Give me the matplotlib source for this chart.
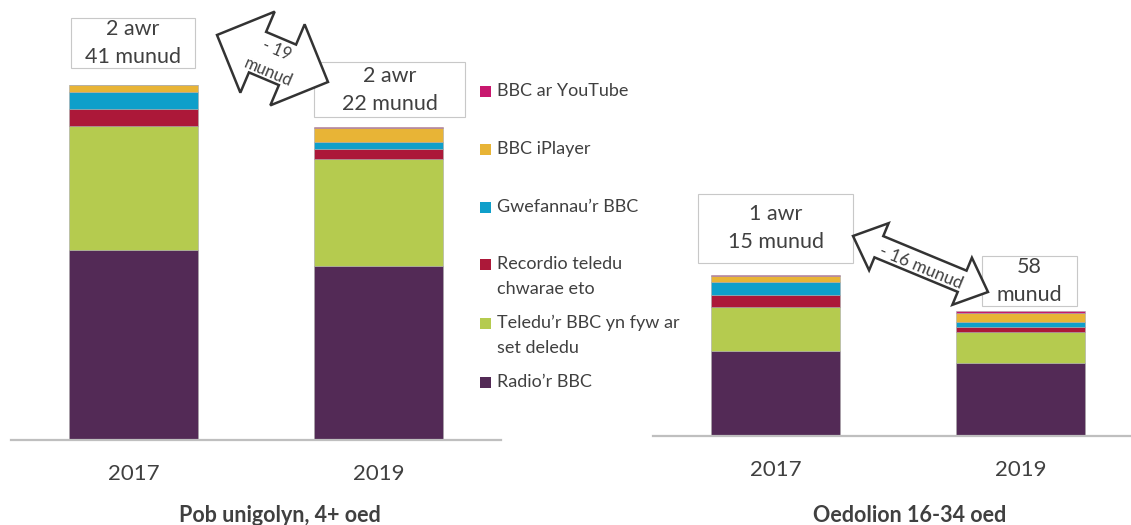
import numpy as np
import matplotlib
matplotlib.use("Agg")
import matplotlib.pyplot as plt
from matplotlib.patches import Polygon, Rectangle

plt.rcParams['font.family'] = ['Lato', 'DejaVu Sans']

# data (minutes per day)
years = ['2017', '2019']
series = ["Radio\u2019r BBC", "Teledu\u2019r BBC yn fyw ar\nset deledu",
          "Recordio teledu\nchwarae eto", "Gwefannau\u2019r BBC",
          "BBC iPlayer", "BBC ar YouTube"]
colors = ['#532A56', '#B5CB4F', '#AC1839', '#0F9FCA', '#E8B436', '#C8186E']

all_radio = [86.2, 79.1]
all_tv = [56.0, 48.3]
all_rec = [7.9, 4.7]
all_web = [7.7, 3.2]
all_iplayer = [3.0, 6.0]
all_youtube = [0.3, 0.5]

young_radio = [39.4, 34.0]
young_tv = [20.8, 14.4]
young_rec = [5.4, 2.2]
young_web = [6.2, 2.2]
young_iplayer = [2.5, 4.6]
young_youtube = [0.65, 0.75]

all_labels = ['2 awr\n41 munud', '2 awr\n22 munud']
young_labels = ['1 awr\n15 munud', '58\nmunud']
all_change = ['- 19', 'munud']
young_change = '- 16 munud'

W, H = 1131, 525
TXT = '#404040'


def fx(x):
    return x / W


def fy(y):
    return 1 - y / H


fig = plt.figure(figsize=(W / 100, H / 100), dpi=100)


def stacked(ax, stack, ymax, title, tx):
    bottom = np.zeros(2)
    xs = np.arange(2)
    for vals, c in zip(stack, colors):
        ax.bar(xs, vals, width=0.53, bottom=bottom, color=c,
               edgecolor='#a8a8a8', linewidth=0.4)
        bottom += np.array(vals)
    ax.set_xlim(-0.5, 1.5)
    ax.set_ylim(0, ymax)
    for s in ['top', 'left', 'right']:
        ax.spines[s].set_visible(False)
    ax.spines['bottom'].set_color('#bfbfbf')
    ax.spines['bottom'].set_linewidth(1.6)
    ax.set_yticks([])
    ax.set_xticks(xs)
    ax.set_xticklabels(years, fontsize=16, color=TXT)
    ax.tick_params(axis='x', length=0, pad=17)
    fig.text(fx(tx), fy(516), title, ha='center', va='center',
             fontsize=15.5, fontweight='bold', color=TXT)
    return bottom


ax1 = fig.add_axes([fx(11), fy(440), 490 / W, 430 / H])
stacked(ax1, [all_radio, all_tv, all_rec, all_web, all_iplayer, all_youtube],
        430 / 2.205, 'Pob unigolyn, 4+ oed', 280)

ax2 = fig.add_axes([fx(653), fy(436), 490 / W, 420 / H])
stacked(ax2, [young_radio, young_tv, young_rec, young_web, young_iplayer, young_youtube],
        420 / 2.15, 'Oedolion 16-34 oed', 910)


def label_box(x0, y0, x1, y1, text):
    fig.patches.append(Rectangle((fx(x0), fy(y1)), (x1 - x0) / W, (y1 - y0) / H,
                                 transform=fig.transFigure, facecolor='white',
                                 edgecolor='#c8c8c8', linewidth=0.8, zorder=3))
    l1, l2 = text.split('\n')
    cx, cy = (x0 + x1) / 2, (y0 + y1) / 2
    fig.text(fx(cx), fy(cy - 14), l1, ha='center', va='center', fontsize=15.5, color=TXT, zorder=4)
    fig.text(fx(cx), fy(cy + 14), l2, ha='center', va='center', fontsize=15.5, color=TXT, zorder=4)


label_box(71, 18, 195, 68, all_labels[0])
label_box(314, 62, 465, 117, all_labels[1])
label_box(698, 194, 853, 263, young_labels[0])
label_box(982, 256, 1077, 306, young_labels[1])


def double_arrow(p0, p1, head_len, head_half, shaft_half):
    p0, p1 = np.array(p0, float), np.array(p1, float)
    u = (p1 - p0) / np.linalg.norm(p1 - p0)
    n = np.array([-u[1], u[0]])
    pts = [p0,
           p0 + u * head_len + n * head_half,
           p0 + u * head_len + n * shaft_half,
           p1 - u * head_len + n * shaft_half,
           p1 - u * head_len + n * head_half,
           p1,
           p1 - u * head_len - n * head_half,
           p1 - u * head_len - n * shaft_half,
           p0 + u * head_len - n * shaft_half,
           p0 + u * head_len - n * head_half]
    pts = [(fx(p[0]), fy(p[1])) for p in pts]
    fig.patches.append(Polygon(pts, closed=True, transform=fig.transFigure,
                               facecolor='white', edgecolor='#333333',
                               linewidth=1.8, joinstyle='miter', zorder=5))
    return np.degrees(np.arctan2(p1[1] - p0[1], p1[0] - p0[0]))


ang = double_arrow((217, 35), (328, 82), 44, 44, 22)
fig.text(fx(277), fy(50), all_change[0], rotation=-ang, rotation_mode='anchor',
         ha='center', va='center', fontsize=12, color=TXT, zorder=6)
fig.text(fx(268), fy(72), all_change[1], rotation=-ang, rotation_mode='anchor',
         ha='center', va='center', fontsize=12, color=TXT, zorder=6)

ang = double_arrow((853, 236), (988, 292), 28, 25.5, 11.5)
fig.text(fx(921), fy(267), young_change, rotation=-ang, rotation_mode='anchor',
         ha='center', va='center', fontsize=12.5, color=TXT, zorder=6)

# legend, top entry first
legend_y = [382, 323, 264, 207, 149, 91]
for name, c, y in zip(series, colors, legend_y):
    fig.patches.append(Rectangle((fx(480), fy(y + 5.5)), 11 / W, 11 / H,
                                 transform=fig.transFigure, facecolor=c,
                                 edgecolor='none'))
    for k, line in enumerate(name.split('\n')):
        fig.text(fx(497), fy(y + 25 * k), line, ha='left', va='center',
                 fontsize=13, color=TXT)

fig.savefig('out.png', dpi=100, facecolor='white')
